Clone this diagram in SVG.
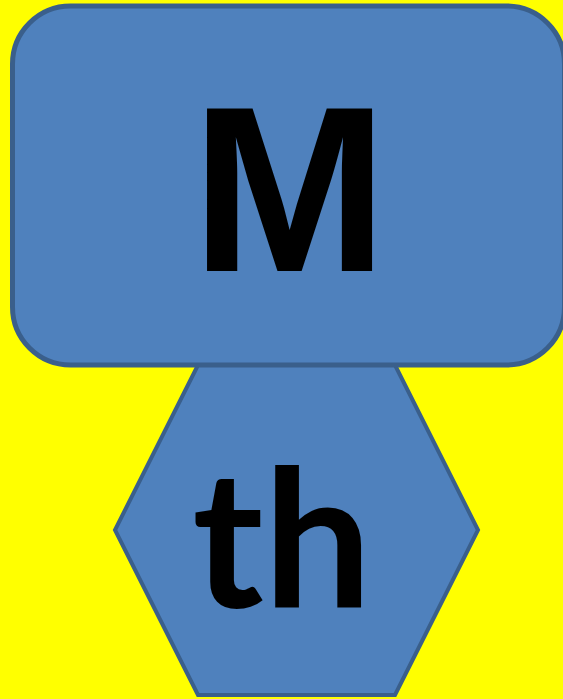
<svg xmlns="http://www.w3.org/2000/svg" width="563" height="699" viewBox="0 0 563 699">
<style>
.shape{fill:#4F81BD;stroke:#3A5F8B}
.lbl{fill:#000;font-weight:bold;text-anchor:middle}
</style>
<rect x="0" y="0" width="563" height="699" fill="#FFFF00"/>
<g id="node-th">
<polygon class="shape" stroke-width="4" points="198,365 395,365 478,530 395,695 198,695 115,530"/>
<text class="lbl" x="282" y="607" font-family="Lato, 'Open Sans', sans-serif" font-size="192">th</text>
</g>
<g id="node-M">
<rect class="shape" stroke-width="5" x="12.5" y="6" width="552" height="359" rx="58" ry="58"/>
<text class="lbl" x="289.5" y="271" font-family="'Liberation Sans', Arial, sans-serif" font-size="236">M</text>
</g>
<g id="connectors"/>
</svg>
